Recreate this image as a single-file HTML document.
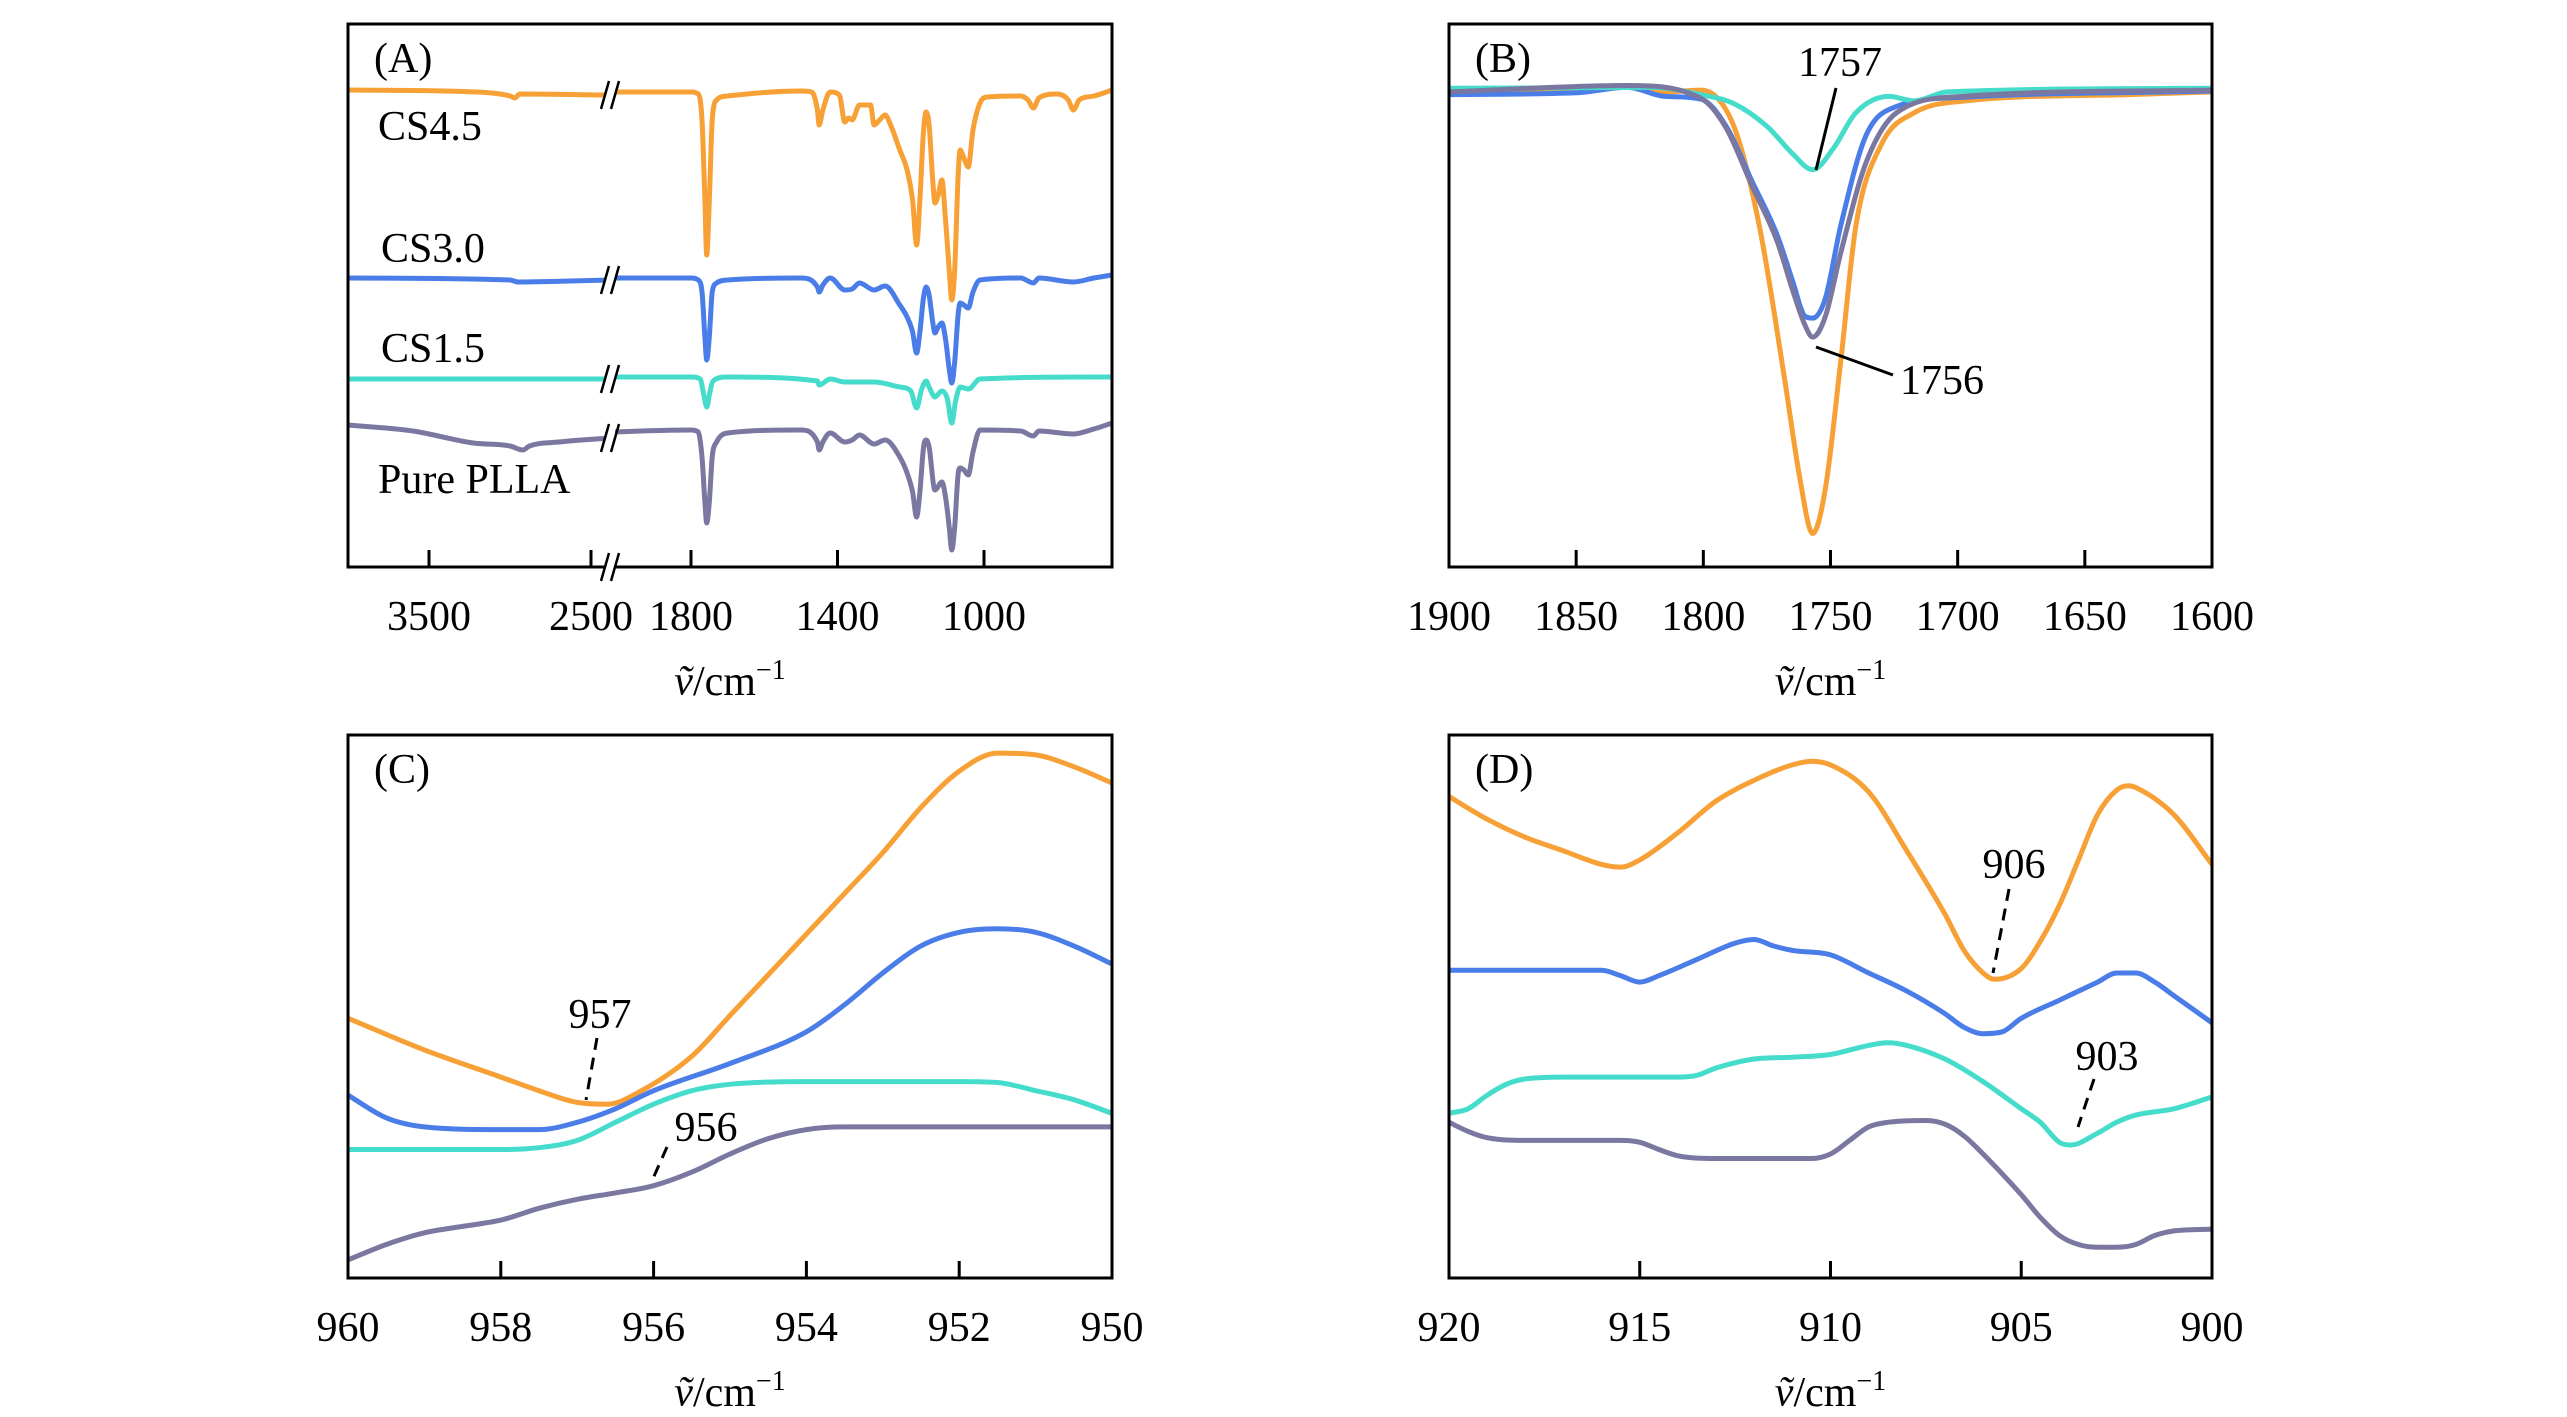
<!DOCTYPE html>
<html><head><meta charset="utf-8"><style>
html,body{margin:0;padding:0;background:#fff}
svg{display:block;font-family:"Liberation Serif",serif}
</style></head><body>
<svg id="fig" width="2567" height="1417" viewBox="0 0 2567 1417" xmlns="http://www.w3.org/2000/svg"></svg>
<script>
// ---------- DATA ----------
const seriesNames = ['CS4.5','CS3.0','CS1.5','Pure PLLA'];
const seriesColors = ['#f7a035','#4a7de8','#46dccb','#7a78a0'];
const aLeftOrange=[[4000,477],[3200,475],[3000,471],[2970,469],[2940,473],[2383,472]];
const aLeftBlue=[[4000,289],[3000,287],[2950,285],[2383,287]];
const aLeftCyan=[[4000,188],[2383,188]];
const aLeftPurple=[[4000,142],[3600,136],[3227,124],[3000,121],[2920,117],[2880,121],[2700,125],[2383,129]];
const aRightOrange=[[2021,475],[1800,475],[1780,473],[1770,447],[1762,367],[1757,312],[1750,367],[1742,447],[1730,467],[1700,471],[1500,476],[1470,475],[1455,457],[1450,442],[1440,457],[1420,475],[1395,472],[1380,445],[1370,449],[1360,447],[1340,462],[1310,462],[1300,442],[1285,447],[1270,452],[1255,442],[1230,417],[1210,397],[1195,367],[1184,322],[1175,367],[1165,437],[1158,455],[1150,442],[1140,387],[1134,364],[1125,372],[1115,387],[1105,347],[1095,297],[1088,267],[1080,297],[1070,397],[1065,417],[1055,409],[1043,400],[1030,437],[1011,464],[990,470],[900,471],[880,467],[865,459],[850,469],[800,473],[770,467],[756,457],[740,467],[700,471],[650,477]];
const aRightBlue=[[2021,289],[1800,289],[1780,287],[1770,275],[1762,230],[1757,207],[1750,230],[1742,275],[1730,284],[1700,287],[1500,289],[1455,280],[1450,275],[1440,282],[1420,289],[1380,277],[1360,278],[1340,284],[1300,277],[1270,281],[1230,262],[1210,250],[1195,235],[1184,214],[1175,235],[1165,270],[1158,280],[1150,272],[1140,245],[1134,234],[1125,240],[1115,244],[1105,228],[1095,198],[1088,184],[1080,205],[1070,255],[1065,264],[1055,262],[1043,259],[1030,275],[1011,287],[900,289],[865,284],[850,289],[756,285],[700,289],[650,292]];
const aRightCyan=[[2021,190],[1800,190],[1775,188],[1765,172],[1757,160],[1750,172],[1740,186],[1700,190],[1455,186],[1450,182],[1420,188],[1380,185],[1300,185],[1230,180],[1200,176],[1184,159],[1170,178],[1158,186],[1150,180],[1134,170],[1115,176],[1100,168],[1088,144],[1078,165],[1065,180],[1043,178],[1011,188],[700,190],[650,190]];
const aRightPurple=[[2021,135],[1800,137],[1780,135],[1770,110],[1762,65],[1757,44],[1750,65],[1742,110],[1730,125],[1700,134],[1500,137],[1455,125],[1450,117],[1440,125],[1420,134],[1380,125],[1360,127],[1340,132],[1300,123],[1270,127],[1230,110],[1210,94],[1195,75],[1184,50],[1175,75],[1165,120],[1158,127],[1150,120],[1134,77],[1115,85],[1105,70],[1095,40],[1088,17],[1080,40],[1070,95],[1065,99],[1055,97],[1043,92],[1030,115],[1011,137],[900,136],[865,131],[850,136],[756,133],[700,138],[650,144]];
const bOrange=[[1900,527],[1850,529],[1830,532],[1815,525],[1801,527],[1788,487],[1778,377],[1768,207],[1762,97],[1757,37],[1752,87],[1746,227],[1740,377],[1730,467],[1717,502],[1697,515],[1633,522],[1600,525]];
const bBlue=[[1900,522],[1850,524],[1830,530],[1815,520],[1801,517],[1791,487],[1781,427],[1771,367],[1765,317],[1760,277],[1757,275],[1752,297],[1746,377],[1736,477],[1724,509],[1698,519],[1600,526]];
const bCyan=[[1900,529],[1820,530],[1801,522],[1788,512],[1775,487],[1765,457],[1757,439],[1749,462],[1740,502],[1727,520],[1717,515],[1704,525],[1600,529]];
const bPurple=[[1900,525],[1830,532],[1801,518],[1791,485],[1781,422],[1771,360],[1765,307],[1760,267],[1757,254],[1752,277],[1746,347],[1736,447],[1724,502],[1698,520],[1600,527]];
const cOrange=[[960,287],[959,252],[958,222],[957.5,207],[957,194],[956.6,192],[956.2,205],[955.5,245],[955,290],[954.5,335],[954,380],[953.5,425],[953,470],[952.5,520],[952,560],[951.5,580],[951,578],[950.5,565],[950,547]];
const cBlue=[[960,202],[959.5,177],[959,167],[958,164],[957.5,164],[957,172],[956.5,187],[956,207],[955,237],[954,272],[953.5,302],[953,337],[952.5,367],[952,382],[951.5,386],[951,382],[950.5,367],[950,347]];
const cCyan=[[960,142],[958,142],[957.5,144],[957,152],[956.5,172],[956,192],[955.5,207],[955,214],[954,217],[952,217],[951.5,216],[951,207],[950.5,197],[950,182]];
const cPurple=[[960,20],[959.5,37],[959,50],[958.5,57],[958,64],[957.5,77],[957,87],[956.5,94],[956,102],[955.5,117],[955,137],[954.5,154],[954,164],[953.5,167],[952,167],[950,167]];
const dOrange=[[920,532],[919,507],[918,487],[917,472],[916,457],[915.5,454],[915,462],[914,492],[913,527],[912,550],[911,567],[910.5,571],[910,567],[909,537],[908,472],[907,402],[906.5,362],[906,337],[905.7,330],[905,342],[904.5,372],[904,412],[903.5,462],[903,512],[902.5,539],[902.2,544],[902,542],[901,512],[900,457]];
const dBlue=[[920,340],[916,340],[915.5,334],[915,327],[914.5,334],[913.5,352],[912.5,370],[912,374],[911.5,367],[911,362],[910,357],[909,337],[908,317],[907,292],[906.5,277],[906,270],[905.5,272],[905,287],[904,307],[903,327],[902.5,337],[902,337],[901.5,327],[901,312],[900,282]];
const dCyan=[[920,182],[919.5,187],[919,202],[918.5,214],[918,220],[917,222],[914,222],[913.5,224],[913,232],[912,242],[911,244],[910,247],[909,257],[908.5,260],[908,257],[907,242],[906,217],[905,187],[904.5,172],[904,150],[903.7,147],[903,160],[902.5,172],[902,180],[901,187],[900,200]];
const dPurple=[[920,172],[919.5,162],[919,155],[918,152],[915.5,152],[915,150],[914.5,142],[914,135],[913,132],[910.5,132],[910,137],[909.5,152],[909,167],[908.5,172],[907.5,174],[907,170],[906.5,157],[906,137],[905,92],[904.5,67],[904,47],[903.5,37],[903,34],[902.5,34],[902,37],[901.5,47],[901,52],[900,54]];
const aTicksLeft=[3500,2500];
const aTicksRight=[1800,1400,1000];
const bTicks=[1900,1850,1800,1750,1700,1650,1600];
const cTicks=[960,958,956,954,952,950];
const dTicks=[920,915,910,905,900];

// ---------- DRAW ----------
const NS='http://www.w3.org/2000/svg';
const svg=document.getElementById('fig');
function mk(tag,attrs,parent){const e=document.createElementNS(NS,tag);for(const k in attrs)e.setAttribute(k,attrs[k]);(parent||svg).appendChild(e);return e;}
function lin(d0,d1,r0,r1){return v=>r0+(v-d0)/(d1-d0)*(r1-r0);}
// monotone cubic (Fritsch-Carlson) in screen space
function smoothPath(pts,fx,fy){
  const P=pts.map(p=>[fx(p[0]),fy(p[1])]);
  const n=P.length;
  if(n<3)return P.map((p,i)=>(i?'L':'M')+p[0].toFixed(1)+' '+p[1].toFixed(1)).join(' ');
  const d=[],m=[];
  for(let i=0;i<n-1;i++){d.push((P[i+1][1]-P[i][1])/(P[i+1][0]-P[i][0]));}
  m[0]=d[0];m[n-1]=d[n-2];
  for(let i=1;i<n-1;i++){m[i]=(d[i-1]*d[i]<=0)?0:(d[i-1]+d[i])/2;}
  for(let i=0;i<n-1;i++){if(d[i]===0){m[i]=0;m[i+1]=0;continue;}const a=m[i]/d[i],b=m[i+1]/d[i],s=a*a+b*b;if(s>9){const t=3/Math.sqrt(s);m[i]=t*a*d[i];m[i+1]=t*b*d[i];}}
  let s='M'+P[0][0].toFixed(1)+' '+P[0][1].toFixed(1);
  for(let i=0;i<n-1;i++){const h=(P[i+1][0]-P[i][0])/3;
    s+=' C'+(P[i][0]+h).toFixed(1)+' '+(P[i][1]+m[i]*h).toFixed(1)+' '+(P[i+1][0]-h).toFixed(1)+' '+(P[i+1][1]-m[i+1]*h).toFixed(1)+' '+P[i+1][0].toFixed(1)+' '+P[i+1][1].toFixed(1);}
  return s;
}
function txt(x,y,s,size,anchor,parent){const t=mk('text',{x:x,y:y,'font-size':size,'text-anchor':anchor||'middle',fill:'#000'},parent);t.textContent=s;return t;}
function axisTitle(cx,y,parent){
  const t=mk('text',{x:cx,y:y,'font-size':42,'text-anchor':'middle',fill:'#000'},parent);
  
  
  const a=mk('tspan',{'font-style':'italic'},t);a.textContent='\u1E7D';
  const b=mk('tspan',{},t);b.textContent='/cm';
  const c=mk('tspan',{dy:-16,'font-size':28},t);c.textContent='\u22121';
}
const W=5;
const P={A:{x0:348,x1:1112,y0:24,y1:567},B:{x0:1449,x1:2212,y0:24,y1:567},C:{x0:348,x1:1112,y0:735,y1:1278},D:{x0:1449,x1:2212,y0:735,y1:1278}};

(function(){
  const g=mk('g',{});
  const p=P.A, brk=610;
  const xl=lin(4000,2500,p.x0,591), xr=lin(1800,1000,691,984), y=lin(0,543,p.y1,p.y0);
  const L=[aLeftOrange,aLeftBlue,aLeftCyan,aLeftPurple], R=[aRightOrange,aRightBlue,aRightCyan,aRightPurple];
  for(let i=0;i<4;i++){
    const gl=mk('path',{d:smoothPath(L[i],xl,y)+' '+smoothPath(R[i],xr,y),fill:'none',stroke:seriesColors[i],'stroke-width':W,'stroke-linejoin':'round'},g);
    
    
    const yy=y(L[i][L[i].length-1][1]);
    const bm=mk('g',{},g);
    
    
    mk('rect',{x:brk-5,y:yy-14,width:10,height:28,fill:'#fff'},bm);
    mk('line',{x1:brk-9,y1:yy+14,x2:brk-1,y2:yy-14,stroke:'#000','stroke-width':2.5},bm);
    mk('line',{x1:brk+1,y1:yy+14,x2:brk+9,y2:yy-14,stroke:'#000','stroke-width':2.5},bm);
  }
  const fr=mk('rect',{x:p.x0,y:p.y0,width:p.x1-p.x0,height:p.y1-p.y0,fill:'none',stroke:'#000','stroke-width':3},g);
  
  aTicksLeft.forEach(v=>{mk('line',{x1:xl(v),x2:xl(v),y1:p.y1,y2:p.y1-17,stroke:'#000','stroke-width':3},g);const t=txt(xl(v),630,String(v),42,'middle',g);});
  aTicksRight.forEach(v=>{mk('line',{x1:xr(v),x2:xr(v),y1:p.y1,y2:p.y1-17,stroke:'#000','stroke-width':3},g);const t=txt(xr(v),630,String(v),42,'middle',g);});
  const ab=mk('g',{},g);
  mk('rect',{x:brk-5,y:p.y1-14,width:10,height:28,fill:'#fff'},ab);
  mk('line',{x1:brk-9,y1:p.y1+14,x2:brk-1,y2:p.y1-14,stroke:'#000','stroke-width':2.5},ab);
  mk('line',{x1:brk+1,y1:p.y1+14,x2:brk+9,y2:p.y1-14,stroke:'#000','stroke-width':2.5},ab);
  const lab=txt(374,72,'(A)',42,'start',g);
  const sl=[[378,140,'CS4.5'],[381,262,'CS3.0'],[381,362,'CS1.5'],[378,493,'Pure PLLA']];
  sl.forEach(s=>{const t=txt(s[0],s[1],s[2],42,'start',g);});
  axisTitle((p.x0+p.x1)/2,695,g);
})();

function simplePanel(key,dom,series,ticks,label,annots){
  const p=P[key];
  const g=mk('g',{});
  const x=lin(dom[0],dom[1],p.x0,p.x1), y=lin(0,600,p.y1,p.y0);
  series.forEach((s,i)=>{
    const l=mk('path',{d:smoothPath(s,x,y),fill:'none',stroke:seriesColors[i],'stroke-width':W,'stroke-linejoin':'round'},g);
    
    
  });
  const fr=mk('rect',{x:p.x0,y:p.y0,width:p.x1-p.x0,height:p.y1-p.y0,fill:'none',stroke:'#000','stroke-width':3},g);
  
  ticks.forEach(v=>{
    mk('line',{x1:x(v),x2:x(v),y1:p.y1,y2:p.y1-17,stroke:'#000','stroke-width':3},g);
    const t=txt(x(v),p.y1+63,String(v),42,'middle',g);
    
  });
  const lab=txt(p.x0+26,p.y0+48,label,42,'start',g);
  axisTitle((p.x0+p.x1)/2,p.y1+128,g);
  annots.forEach(a=>{
    const ag=mk('g',{},g);
    txt(a[1],a[2],a[0],42,'middle',ag);
    const ln=mk('line',{x1:a[3],y1:a[4],x2:a[5],y2:a[6],stroke:'#000','stroke-width':3},ag);
    if(a[7])ln.setAttribute('stroke-dasharray','12 8');
  });
}
simplePanel('B',[1900,1600],[bOrange,bBlue,bCyan,bPurple],bTicks,'(B)',
  [['1757',1840,76,1836,88,1816,170,false],['1756',1942,394,1816,347,1893,375,false]]);
simplePanel('C',[960,950],[cOrange,cBlue,cCyan,cPurple],cTicks,'(C)',
  [['957',600,1028,597,1038,586,1100,true],['956',706,1141,667,1147,651,1183,true]]);
simplePanel('D',[920,900],[dOrange,dBlue,dCyan,dPurple],dTicks,'(D)',
  [['906',2014,878,2009,889,1993,973,true],['903',2107,1070,2094,1079,2078,1127,true]]);
</script>
</body></html>
